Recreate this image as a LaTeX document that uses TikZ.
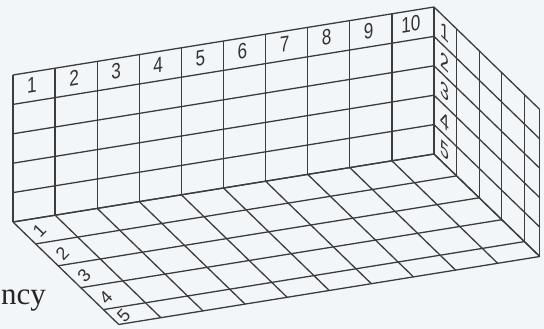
\documentclass[tikz,border=0pt]{standalone}
\usepackage{fontspec}
\setmainfont{Liberation Serif}
\newfontfamily\numfont{Liberation Sans}
\usetikzlibrary{calc}

\definecolor{bgcol}{HTML}{F3F6F9}
\definecolor{gridcol}{HTML}{3C3C3C}
\definecolor{numcol}{HTML}{333333}

\begin{document}
\begin{tikzpicture}[
    x=1pt, y=-1pt,
    gridline/.style={draw=gridcol, line width=1.3pt},
    colnum/.style={font=\numfont\fontsize{22}{22}\selectfont, text=numcol,
                   inner sep=0pt, yslant=0.16, xscale=0.78},
    sidenum/.style={font=\numfont\fontsize{22}{22}\selectfont, text=numcol,
                    inner sep=0pt, yslant=-0.97, xscale=0.72},
    floornum/.style={font=\numfont\fontsize{18}{18}\selectfont, text=numcol,
                     inner sep=0pt, rotate=46},
]
    % background and page size
    \fill[bgcol] (0,0) rectangle (544,329);

    % front wall with the column numbers
    \begin{scope}[shift={(13,75)}, x={(42.1pt,6.8pt)}, y={(0pt,-29.4pt)}]
        \foreach \i in {0,...,10} \draw[gridline] (\i,0) -- (\i,5);
        \foreach \j in {0,...,5} \draw[gridline] (0,\j) -- (10,\j);
        \foreach \i in {1,...,10} \node[colnum] (col\i) at (\i-0.55,0.45) {\i};
    \end{scope}

    % right side wall
    \begin{scope}[shift={(434,7)}, x={(22.6pt,-21.9pt)}, y={(0pt,-29.4pt)}]
        \foreach \k in {0,1,2,3,4,4.68} \draw[gridline] (\k,0) -- (\k,5);
        \foreach \j in {0,...,5} \draw[gridline] (0,\j) -- (4.68,\j);
        \foreach \j in {1,...,5} \node[sidenum] (side\j) at (0.5,\j-0.5) {\j};
    \end{scope}

    % floor
    \begin{scope}[shift={(13,222)}, x={(42.1pt,6.8pt)}, y={(22.6pt,-21.9pt)}]
        \foreach \i in {0,...,10} \draw[gridline] (\i,0) -- (\i,4.68);
        \foreach \k in {0,1,2,3,4,4.68} \draw[gridline] (0,\k) -- (10,\k);
        \node[floornum] (depth1) at (0.36,0.5) {1};
        \node[floornum] (depth2) at (0.34,1.55) {2};
        \node[floornum] (depth3) at (0.32,2.55) {3};
        \node[floornum] (depth4) at (0.3,3.55) {4};
        \node[floornum] (depth5) at (0.28,4.38) {5};
    \end{scope}

    % cut-off axis title
    \node[font=\fontsize{31}{31}\selectfont, text=black!85, anchor=base west,
          inner sep=0pt] (axistitle) at (1,304) {ncy};
\end{tikzpicture}
\end{document}
